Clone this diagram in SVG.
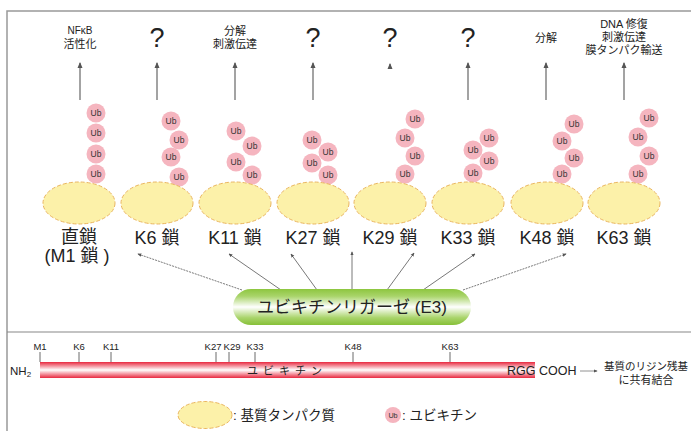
<svg xmlns="http://www.w3.org/2000/svg" width="691" height="431" viewBox="0 0 691 431">
<defs>
<linearGradient id="gGreen" x1="0" y1="0" x2="0" y2="1">
<stop offset="0" stop-color="#8dc63f"/>
<stop offset="0.2" stop-color="#a9d46a"/>
<stop offset="0.5" stop-color="#ffffff"/>
<stop offset="0.8" stop-color="#a9d46a"/>
<stop offset="1" stop-color="#86c038"/>
</linearGradient>
<linearGradient id="gRed" x1="0" y1="0" x2="0" y2="1">
<stop offset="0" stop-color="#e8283f"/>
<stop offset="0.5" stop-color="#ffffff"/>
<stop offset="1" stop-color="#e8283f"/>
</linearGradient>
<marker id="ah" viewBox="0 0 6 6" refX="5" refY="3" markerWidth="5" markerHeight="5" orient="auto">
<path d="M0,0.5 L6,3 L0,5.5 Z" fill="#555"/>
</marker>
<g id="ub"><circle r="9.5" fill="#f5b5bf"/><text y="3" class="ubt">Ub</text></g>
</defs>
<style>
text{font-family:"Liberation Sans","Noto Sans CJK JP",sans-serif;fill:#222}
.ubt{font-size:8.5px;text-anchor:middle;fill:#333}
.sub{fill:#fcf1a9;stroke:#eab55e;stroke-width:1;stroke-dasharray:4 2}
.top{font-size:11px;text-anchor:middle}
.q{font-size:27px;text-anchor:middle}
.lab{font-size:18px;text-anchor:middle}
.va{stroke:#666;stroke-width:1.2;fill:none;marker-end:url(#ah)}
.ea{stroke:#555;stroke-width:0.8;fill:none;marker-end:url(#ah)}
.dash{stroke-dasharray:2 1}
.tick{stroke:#444;stroke-width:0.8}
.pos{font-size:9.5px;text-anchor:middle}
</style>
<rect x="7" y="11" width="700" height="440" fill="none" stroke="#999" stroke-width="1.5"/>
<line x1="7" y1="332" x2="691" y2="332" stroke="#888" stroke-width="1.2"/>

<g id="connectors">
<line class="va" x1="80" y1="100" x2="80" y2="63"/>
<line class="va" x1="157" y1="100" x2="157" y2="63"/>
<line class="va" x1="235" y1="100" x2="235" y2="63"/>
<line class="va" x1="313" y1="100" x2="313" y2="63"/>
<line class="va" x1="390" y1="68" x2="390" y2="64"/>
<line class="va" x1="468" y1="100" x2="468" y2="63"/>
<line class="va" x1="546" y1="100" x2="546" y2="63"/>
<line class="va" x1="624" y1="100" x2="624" y2="63"/>
<line class="ea dash" x1="242" y1="290" x2="138" y2="254"/>
<line class="ea" x1="281" y1="290" x2="229" y2="254"/>
<line class="ea" x1="317" y1="290" x2="291" y2="254"/>
<line class="ea" x1="352" y1="289" x2="352" y2="252"/>
<line class="ea" x1="387" y1="290" x2="414" y2="253"/>
<line class="ea" x1="423" y1="290" x2="475" y2="254"/>
<line class="ea dash" x1="463" y1="290" x2="566" y2="254"/>
</g>

<g id="M1">
<text class="top" x="80" y="34" style="font-size:10px">NFκB</text>
<text class="top" x="80" y="48">活性化</text>
<use href="#ub" x="96" y="113"/><use href="#ub" x="96" y="133"/><use href="#ub" x="96" y="154"/><use href="#ub" x="96" y="174"/>
<ellipse class="sub" cx="79" cy="203" rx="36" ry="21"/>
<text class="lab" x="79" y="243">直鎖</text>
<text class="lab" x="77" y="262">(M1 鎖 )</text>
</g>
<g id="K6">
<text class="q" x="157" y="47">?</text>
<use href="#ub" x="171" y="121"/><use href="#ub" x="179" y="140"/><use href="#ub" x="171" y="157"/><use href="#ub" x="179" y="177"/>
<ellipse class="sub" cx="157" cy="203" rx="36" ry="21"/>
<text class="lab" x="157" y="244">K6 鎖</text>
</g>
<g id="K11">
<text class="top" x="235" y="35">分解</text>
<text class="top" x="235" y="48">刺激伝達</text>
<use href="#ub" x="236" y="131"/><use href="#ub" x="252" y="146"/><use href="#ub" x="236" y="162"/><use href="#ub" x="252" y="175"/>
<ellipse class="sub" cx="235" cy="203" rx="36" ry="21"/>
<text class="lab" x="235" y="244">K11 鎖</text>
</g>
<g id="K27">
<text class="q" x="313" y="47">?</text>
<use href="#ub" x="312" y="140"/><use href="#ub" x="328" y="152"/><use href="#ub" x="312" y="163"/><use href="#ub" x="328" y="175"/>
<ellipse class="sub" cx="313" cy="203" rx="36" ry="21"/>
<text class="lab" x="313" y="244">K27 鎖</text>
</g>
<g id="K29">
<text class="q" x="390" y="47">?</text>
<use href="#ub" x="415" y="119"/><use href="#ub" x="405" y="138"/><use href="#ub" x="415" y="156"/><use href="#ub" x="405" y="174"/>
<ellipse class="sub" cx="390" cy="203" rx="36" ry="21"/>
<text class="lab" x="390" y="244">K29 鎖</text>
</g>
<g id="K33">
<text class="q" x="468" y="47">?</text>
<use href="#ub" x="489" y="138"/><use href="#ub" x="473" y="150"/><use href="#ub" x="489" y="161"/><use href="#ub" x="473" y="173"/>
<ellipse class="sub" cx="468" cy="203" rx="36" ry="21"/>
<text class="lab" x="468" y="244">K33 鎖</text>
</g>
<g id="K48">
<text class="top" x="546" y="42">分解</text>
<use href="#ub" x="574" y="124"/><use href="#ub" x="562" y="141"/><use href="#ub" x="574" y="158"/><use href="#ub" x="562" y="174"/>
<ellipse class="sub" cx="547" cy="203" rx="36" ry="21"/>
<text class="lab" x="547" y="244">K48 鎖</text>
</g>
<g id="K63">
<text class="top" x="624" y="28">DNA 修復</text>
<text class="top" x="624" y="41">刺激伝達</text>
<text class="top" x="624" y="54">膜タンパク輸送</text>
<use href="#ub" x="649" y="118"/><use href="#ub" x="638" y="137"/><use href="#ub" x="649" y="156"/><use href="#ub" x="638" y="174"/>
<ellipse class="sub" cx="624" cy="203" rx="36" ry="21"/>
<text class="lab" x="624" y="244">K63 鎖</text>
</g>

<g id="E3">
<rect x="233" y="289" width="238" height="36" rx="18" fill="url(#gGreen)"/>
<text x="352" y="313" font-size="17" text-anchor="middle">ユビキチンリガーゼ (E3)</text>
</g>

<g id="ubiquitin">
<rect x="40" y="362" width="495" height="16" fill="url(#gRed)"/>
<line class="tick" x1="40" y1="352" x2="40" y2="362"/>
<line class="tick" x1="79" y1="352" x2="79" y2="362"/>
<line class="tick" x1="111" y1="352" x2="111" y2="362"/>
<line class="tick" x1="216" y1="352" x2="216" y2="362"/>
<line class="tick" x1="229" y1="352" x2="229" y2="362"/>
<line class="tick" x1="255" y1="352" x2="255" y2="362"/>
<line class="tick" x1="353" y1="352" x2="353" y2="362"/>
<line class="tick" x1="450" y1="352" x2="450" y2="362"/>
<text class="pos" x="40" y="350">M1</text>
<text class="pos" x="79" y="350">K6</text>
<text class="pos" x="111" y="350">K11</text>
<text class="pos" x="213" y="350">K27</text>
<text class="pos" x="232" y="350">K29</text>
<text class="pos" x="255" y="350">K33</text>
<text class="pos" x="353" y="350">K48</text>
<text class="pos" x="450" y="350">K63</text>
<text x="10" y="375" font-size="11.5">NH<tspan font-size="8" dy="2">2</tspan></text>
<text x="287" y="375" font-size="11" text-anchor="middle" letter-spacing="5">ユビキチン</text>
<text x="507" y="375" font-size="12.5">RGG COOH</text>
<line x1="580" y1="371" x2="597" y2="371" stroke="#777" stroke-width="0.8" marker-end="url(#ah)"/>
<text x="646" y="370" font-size="10.5" text-anchor="middle">基質のリジン残基</text>
<text x="646" y="384" font-size="11" text-anchor="middle">に共有結合</text>
</g>

<g id="legend">
<ellipse class="sub" cx="205" cy="415" rx="27" ry="13.5"/>
<text x="233" y="420" font-size="13.5">: 基質タンパク質</text>
<use href="#ub" x="393" y="415" transform="translate(393 415) scale(0.85) translate(-393 -415)"/>
<text x="402" y="420" font-size="13.5">: ユビキチン</text>
</g>
</svg>
